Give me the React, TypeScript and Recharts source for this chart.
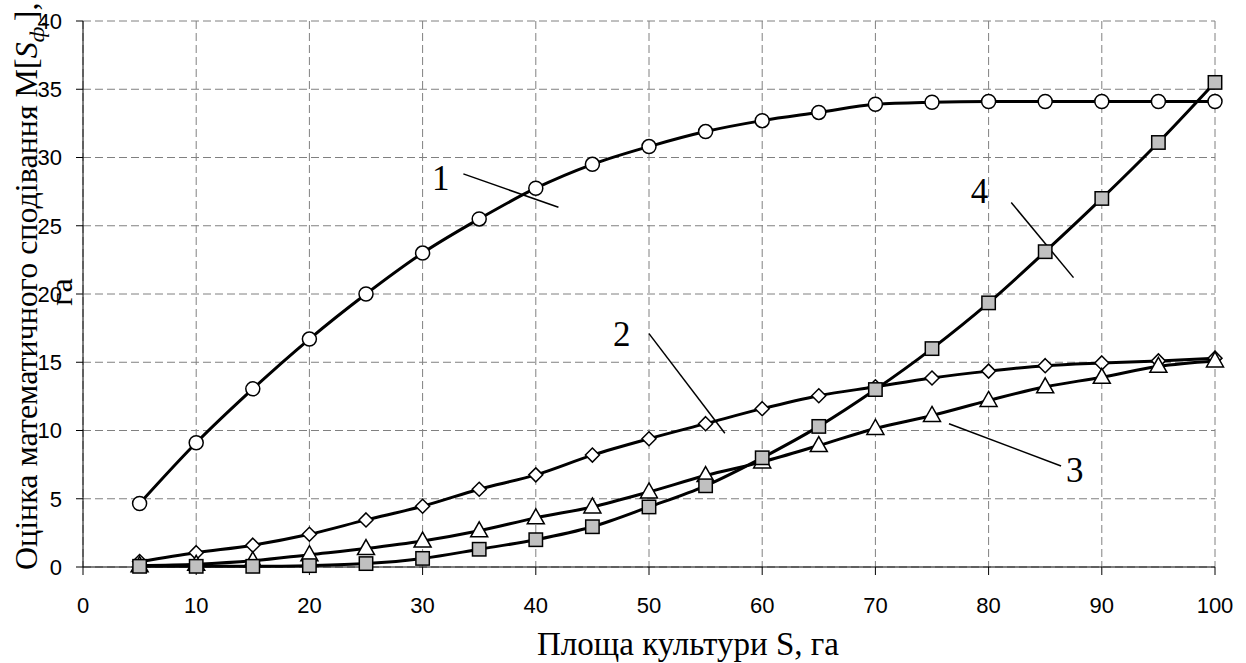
import {
  LineChart,
  Line,
  XAxis,
  YAxis,
  CartesianGrid,
  ReferenceLine,
  ReferenceDot,
} from 'recharts';

const area = [5, 10, 15, 20, 25, 30, 35, 40, 45, 50, 55, 60, 65, 70, 75, 80, 85, 90, 95, 100];
const curve1 = [4.65, 9.1, 13.05, 16.7, 20.0, 23.0, 25.5, 27.75, 29.5, 30.8, 31.9, 32.7, 33.3, 33.9, 34.05, 34.1, 34.1, 34.1, 34.1, 34.1];
const curve2 = [0.4, 1.05, 1.6, 2.4, 3.45, 4.45, 5.7, 6.75, 8.2, 9.4, 10.5, 11.6, 12.55, 13.2, 13.85, 14.35, 14.75, 14.95, 15.1, 15.3];
const curve3 = [0.1, 0.2, 0.45, 0.9, 1.35, 1.9, 2.65, 3.6, 4.4, 5.5, 6.7, 7.7, 8.9, 10.15, 11.1, 12.2, 13.2, 13.9, 14.7, 15.1];
const curve4 = [0.05, 0.05, 0.05, 0.1, 0.25, 0.63, 1.3, 2.0, 2.95, 4.4, 5.95, 8.0, 10.3, 13.0, 16.0, 19.35, 23.1, 27.0, 31.1, 35.5];

const xTicks = [0, 10, 20, 30, 40, 50, 60, 70, 80, 90, 100];
const yTicks = [0, 5, 10, 15, 20, 25, 30, 35, 40];

// curve number labels and their leader lines, in data units
const callouts = [
  { name: '1', x: 31.6, y: 28.5, from: { x: 33.6, y: 28.8 }, to: { x: 42.0, y: 26.35 } },
  { name: '2', x: 47.6, y: 17.06, from: { x: 50.0, y: 17.1 }, to: { x: 56.7, y: 9.8 } },
  { name: '3', x: 87.6, y: 7.1, from: { x: 76.5, y: 10.5 }, to: { x: 86.4, y: 7.4 } },
  { name: '4', x: 79.2, y: 27.56, from: { x: 82.0, y: 26.7 }, to: { x: 87.5, y: 21.2 } },
];

const data = area.map((s, i) => ({
  s,
  c1: curve1[i],
  c2: curve2[i],
  c3: curve3[i],
  c4: curve4[i],
}));

const SERIF = '"Liberation Serif", "Times New Roman", serif';
const SANS = '"Liberation Sans", Arial, sans-serif';

type DotProps = { cx?: number; cy?: number; index?: number };

function CircleDot({ cx = 0, cy = 0 }: DotProps) {
  return <circle cx={cx} cy={cy} r={7} fill="#fff" stroke="#000" strokeWidth={1.5} />;
}

function DiamondDot({ cx = 0, cy = 0 }: DotProps) {
  const h = 7;
  return (
    <path
      d={`M${cx},${cy - h}L${cx + h},${cy}L${cx},${cy + h}L${cx - h},${cy}Z`}
      fill="#fff"
      stroke="#000"
      strokeWidth={1.5}
    />
  );
}

function TriangleDot({ cx = 0, cy = 0 }: DotProps) {
  return (
    <path
      d={`M${cx},${cy - 9}L${cx + 8.5},${cy + 6}L${cx - 8.5},${cy + 6}Z`}
      fill="#fff"
      stroke="#000"
      strokeWidth={1.5}
    />
  );
}

function SquareDot({ cx = 0, cy = 0 }: DotProps) {
  return <rect x={cx - 6.7} y={cy - 6.7} width={13.4} height={13.4} fill="#c0c0c0" stroke="#000" strokeWidth={1.5} />;
}

function NumLabel(props: { viewBox?: { x?: number; y?: number; width?: number; height?: number }; value?: string }) {
  const vb = props.viewBox ?? {};
  const x = (vb.x ?? 0) + (vb.width ?? 0) / 2;
  const y = (vb.y ?? 0) + (vb.height ?? 0) / 2;
  return (
    <text x={x} y={y + 12} textAnchor="middle" fontFamily={SERIF} fontSize={35} fill="#000">
      {props.value}
    </text>
  );
}

function XTitle() {
  return (
    <text x={688} y={655} textAnchor="middle" fontFamily={SERIF} fontSize={33} fill="#000">
      Площа культури S, га
    </text>
  );
}

function YTitle() {
  return (
    <g>
      <text
        transform="translate(37,570) rotate(-90)"
        textAnchor="start"
        fontFamily={SERIF}
        fontSize={32}
        fill="#000"
      >
        Оцінка математичного сподівання M[
        <tspan fontStyle="italic">S</tspan>
        <tspan fontStyle="italic" fontSize={22} dy={7}>ф,</tspan>
        <tspan dy={-7}>],</tspan>
      </text>
      <text
        transform="translate(72,292) rotate(-90)"
        textAnchor="middle"
        fontFamily={SERIF}
        fontSize={32}
        fill="#000"
      >
        га
      </text>
    </g>
  );
}

export default function App() {
  return (
    <div style={{ position: 'absolute', left: 0, top: 0, width: 1246, height: 663, background: '#fff' }}>
      <LineChart width={1246} height={663} data={data} margin={{ top: 21, right: 31, left: 0, bottom: 0 }}>
        <CartesianGrid stroke="#808080" strokeDasharray="8 4" />
        <XAxis
          dataKey="s"
          type="number"
          domain={[0, 100]}
          ticks={xTicks}
          height={96}
          tickSize={8}
          tickMargin={22}
          stroke="#000"
          tick={{ fill: '#000', fontSize: 22, fontFamily: SANS }}
          label={<XTitle />}
        />
        <YAxis
          type="number"
          domain={[0, 40]}
          ticks={yTicks}
          width={83}
          tickSize={7}
          tickMargin={14}
          stroke="#000"
          tick={{ fill: '#000', fontSize: 22, fontFamily: SANS }}
          label={<YTitle />}
        />
        <Line type="monotone" dataKey="c1" stroke="#000" strokeWidth={3} dot={<CircleDot />} activeDot={false} isAnimationActive={false} />
        <Line type="monotone" dataKey="c2" stroke="#000" strokeWidth={3} dot={<DiamondDot />} activeDot={false} isAnimationActive={false} />
        <Line type="monotone" dataKey="c3" stroke="#000" strokeWidth={3} dot={<TriangleDot />} activeDot={false} isAnimationActive={false} />
        <Line type="monotone" dataKey="c4" stroke="#000" strokeWidth={3} dot={<SquareDot />} activeDot={false} isAnimationActive={false} />
        {callouts.map(c => (
          <ReferenceLine key={`l${c.name}`} segment={[c.from, c.to]} stroke="#000" strokeWidth={1.5} />
        ))}
        {callouts.map(c => (
          <ReferenceDot
            key={`d${c.name}`}
            x={c.x}
            y={c.y}
            r={1}
            fill="none"
            stroke="none"
            label={<NumLabel value={c.name} />}
          />
        ))}
      </LineChart>
    </div>
  );
}
